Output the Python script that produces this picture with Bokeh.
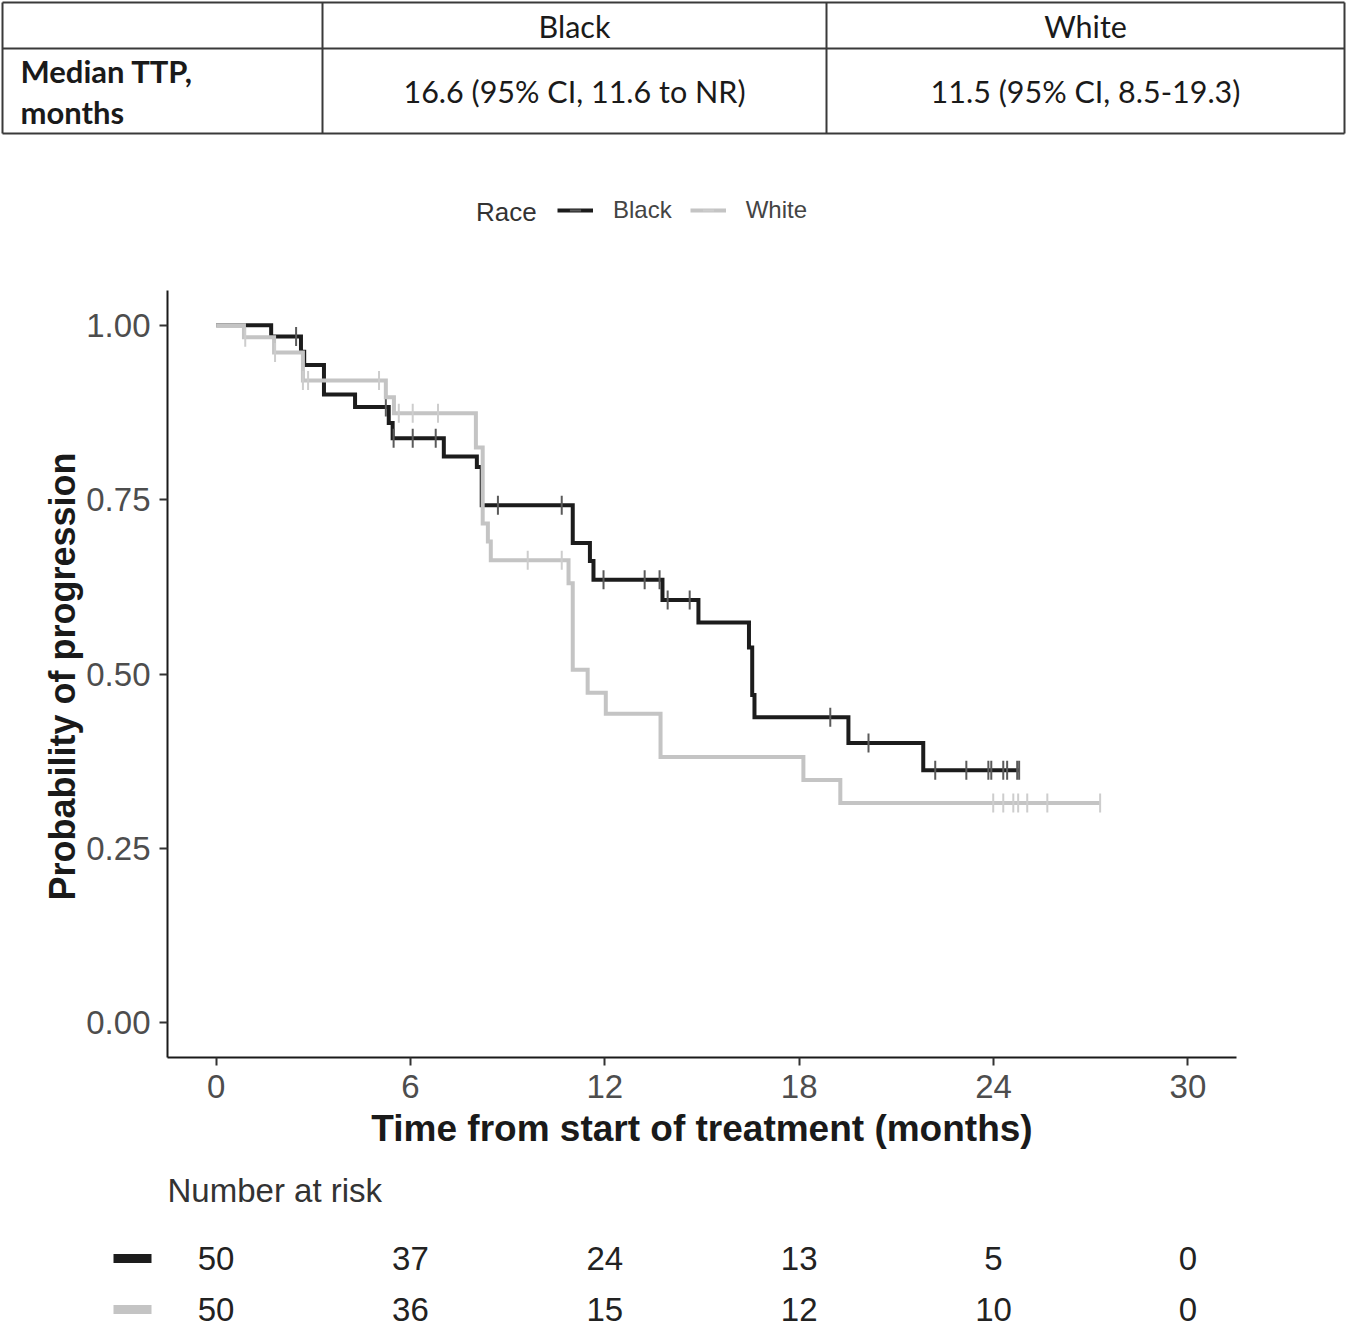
from bokeh.plotting import figure
from bokeh.models import Range1d, FixedTicker, NumeralTickFormatter, Legend, LegendItem, Label, Title
from bokeh.embed import file_html
from bokeh.resources import INLINE
from bokeh.core.properties import value

# ---------------- data ----------------
header_groups = ["Black", "White"]
row_label_lines = ["Median TTP,", "months"]
median_text = ["16.6 (95% CI, 11.6 to NR)", "11.5 (95% CI, 8.5-19.3)"]
legend_title = "Race"
x_title = "Time from start of treatment (months)"
y_title = "Probability of progression"
risk_title = "Number at risk"

# Kaplan-Meier step curves (time in months, probability after the step)
black_t = [0, 1.70, 2.62, 2.72, 3.33, 4.29, 5.33, 5.45, 7.03, 8.05, 8.20, 11.01, 11.54, 11.65,
           13.78, 14.89, 16.45, 16.55, 16.62, 19.52, 21.83, 24.79]
black_s = [1.0, 0.984, 0.962, 0.943, 0.901, 0.883, 0.860, 0.838, 0.812, 0.797, 0.742, 0.688, 0.662, 0.635,
           0.606, 0.574, 0.538, 0.470, 0.438, 0.401, 0.362, 0.362]
black_cens_t = [2.47, 5.24, 5.48, 6.07, 6.78, 8.70, 10.67, 11.96, 13.23, 13.69, 13.94, 14.62,
                18.96, 20.14, 22.20, 23.16, 23.84, 23.93, 24.30, 24.42, 24.73, 24.79]
black_cens_s = [0.984, 0.883, 0.838, 0.838, 0.838, 0.742, 0.742, 0.635, 0.635, 0.635, 0.606, 0.606,
                0.438, 0.401, 0.362, 0.362, 0.362, 0.362, 0.362, 0.362, 0.362, 0.362]

white_t = [0, 0.86, 1.79, 2.68, 5.24, 5.49, 8.02, 8.23, 8.39, 8.48, 10.88, 11.01, 11.47, 12.03,
           13.72, 18.13, 19.27, 27.29]
white_s = [1.0, 0.983, 0.961, 0.921, 0.897, 0.874, 0.825, 0.716, 0.690, 0.663, 0.630, 0.506, 0.473, 0.443,
           0.381, 0.348, 0.315, 0.315]
white_cens_t = [0.90, 1.82, 2.68, 2.84, 5.03, 5.64, 6.07, 6.85, 9.62, 10.67,
                23.99, 24.30, 24.61, 24.76, 25.04, 25.66, 27.29]
white_cens_s = [0.983, 0.961, 0.921, 0.921, 0.921, 0.874, 0.874, 0.874, 0.663, 0.663,
                0.315, 0.315, 0.315, 0.315, 0.315, 0.315, 0.315]

risk_times = [0, 6, 12, 18, 24, 30]
risk_black = [50, 37, 24, 13, 5, 0]
risk_white = [50, 36, 15, 12, 10, 0]

x_ticks = [0, 6, 12, 18, 24, 30]
y_ticks = [0.0, 0.25, 0.50, 0.75, 1.00]

# ---------------- styling ----------------
BLACK = "#1c1c1c"
GRAY = "#c4c4c4"
BLACK_CENS = "#5a5a5a"
GRAY_CENS = "#cdcdcd"
SANS = "Liberation Sans"
TABLE_FONT = "Lato"

W = 1346
LEFT, RIGHT, TOP, BOTTOM = 167, 110, 122, 116
H1, H2, H3 = 168, 1005, 157
X0, X1 = -1.5, 31.5
Y0, Y1 = -0.05, 1.05
px_per_y = (H2 - TOP - BOTTOM) / (Y1 - Y0)
Y_TOP = Y1 + TOP / px_per_y      # room above the axis for the legend row

# ---------------- top table ----------------
t1 = figure(width=W, height=H1, x_range=Range1d(0, W), y_range=Range1d(H1, 0),
            x_axis_type=None, y_axis_type=None, output_backend="svg",
            toolbar_location=None, min_border=0)
t1.grid.visible = False
t1.outline_line_color = None
col_edges = [2, 322, 826, 1344]
row_edges = [2, 48, 133]
t1.segment(x0=[col_edges[0]] * 3, x1=[col_edges[-1]] * 3, y0=row_edges, y1=row_edges,
           line_color="#3a3a3a", line_width=2)
t1.segment(x0=col_edges, x1=col_edges, y0=[row_edges[0]] * 4, y1=[row_edges[-1]] * 4,
           line_color="#3a3a3a", line_width=2)
col_centers = [(col_edges[i] + col_edges[i + 1]) / 2 for i in (1, 2)]
head_y = (row_edges[0] + row_edges[1]) / 2
body_y = (row_edges[1] + row_edges[2]) / 2
t1.text(x=col_centers, y=[head_y] * 2, text=header_groups, text_font=value(TABLE_FONT),
        text_font_size=value("30.5px"), text_align="center", text_baseline="middle",
        text_color="#1a1a1a")
t1.text(x=col_centers, y=[body_y] * 2, text=median_text, text_font=value(TABLE_FONT),
        text_font_size=value("30.5px"), text_align="center", text_baseline="middle",
        text_color="#1a1a1a")
t1.text(x=[20, 20], y=[body_y - 20, body_y + 21], text=row_label_lines, text_font=value(TABLE_FONT),
        text_font_size=value("31px"), text_font_style="bold", text_align="left",
        text_baseline="middle", text_color="#1a1a1a")

# ---------------- KM plot ----------------
p = figure(width=W, height=H2, x_range=Range1d(X0, X1), y_range=Range1d(Y0, Y_TOP),
           output_backend="svg", toolbar_location=None,
           min_border_left=LEFT, min_border_right=RIGHT, min_border_top=0,
           min_border_bottom=BOTTOM)
p.grid.visible = False
p.outline_line_color = None
p.background_fill_color = "white"
p.border_fill_color = "white"

bl = p.step(black_t, black_s, mode="after", line_color=BLACK, line_width=4, line_join="miter")
bc = p.scatter(black_cens_t, black_cens_s, marker="dash", angle=1.5708, size=19,
               line_color=BLACK_CENS, line_width=2)
wl = p.step(white_t, white_s, mode="after", line_color=GRAY, line_width=4, line_join="miter")
wc = p.scatter(white_cens_t, white_cens_s, marker="dash", angle=1.5708, size=19,
               line_color=GRAY_CENS, line_width=2)

LEG_H = 28
legend = Legend(items=[LegendItem(label=header_groups[0], renderers=[bl, bc]),
                       LegendItem(label=header_groups[1], renderers=[wl, wc])],
                location=(390, 833), orientation="horizontal",
                border_line_color=None, background_fill_alpha=0,
                padding=0, margin=0, spacing=18, label_standoff=20,
                glyph_width=36, glyph_height=LEG_H, label_height=LEG_H,
                label_text_font=SANS, label_text_font_size="24px",
                label_text_color="#444444", label_text_baseline="middle")
p.add_layout(legend)
p.add_layout(Label(x=8.02, y=1.162, text=legend_title, text_font=SANS, text_font_size="26px",
                   text_color="#333333", text_baseline="middle", text_align="left"))

p.xaxis.ticker = FixedTicker(ticks=x_ticks)
p.yaxis.ticker = FixedTicker(ticks=y_ticks)
p.yaxis.formatter = NumeralTickFormatter(format="0.00")
p.yaxis.bounds = (Y0, Y1)
p.xaxis.axis_label = x_title
for ax in (p.xaxis[0], p.yaxis[0]):
    ax.axis_line_width = 2
    ax.axis_line_color = "#1a1a1a"
    ax.major_tick_line_width = 2
    ax.major_tick_line_color = "#333333"
    ax.major_tick_out = 8
    ax.major_tick_in = 0
    ax.minor_tick_line_color = None
    ax.major_label_text_font = SANS
    ax.major_label_text_font_size = "33px"
    ax.major_label_text_color = "#4d4d4d"
    ax.major_label_standoff = 9
    ax.axis_label_text_font = SANS
    ax.axis_label_text_font_style = "bold"
    ax.axis_label_text_color = "#1a1a1a"
    ax.axis_label_standoff = 7
p.xaxis.axis_label_text_font_size = "37px"

# y title placed along the bounded part of the axis (not the legend strip)
p.add_layout(Title(text=y_title, align="left", offset=157, standoff=2,
                   text_font=SANS, text_font_size="36px", text_font_style="bold",
                   text_color="#1a1a1a"), "left")

# ---------------- number at risk ----------------
px_per = (W - LEFT - RIGHT) / (X1 - X0)
r_start = X0 - LEFT / px_per
r_end = X1 + RIGHT / px_per
r = figure(width=W, height=H3, x_range=Range1d(r_start, r_end), y_range=Range1d(H3, 0),
           x_axis_type=None, y_axis_type=None, output_backend="svg",
           toolbar_location=None, min_border=0)
r.grid.visible = False
r.outline_line_color = None
row_y = [85, 136]
r.text(x=[X0], y=[17], text=[risk_title], text_font=value(SANS),
       text_font_size=value("33px"), text_align="left", text_baseline="middle",
       text_color="#333333")
r.text(x=risk_times, y=[row_y[0]] * len(risk_times), text=[str(v) for v in risk_black],
       text_font=value(SANS), text_font_size=value("33px"), text_align="center",
       text_baseline="middle", text_color="#222222")
r.text(x=risk_times, y=[row_y[1]] * len(risk_times), text=[str(v) for v in risk_white],
       text_font=value(SANS), text_font_size=value("33px"), text_align="center",
       text_baseline="middle", text_color="#222222")
key_x = r_start + 132 / px_per
r.rect(x=[key_x, key_x], y=row_y, width=38, height=9, width_units="screen",
       height_units="screen", fill_color=[BLACK, GRAY], line_color=None)

open("out.html", "w").write(file_html([t1, p, r], INLINE))
